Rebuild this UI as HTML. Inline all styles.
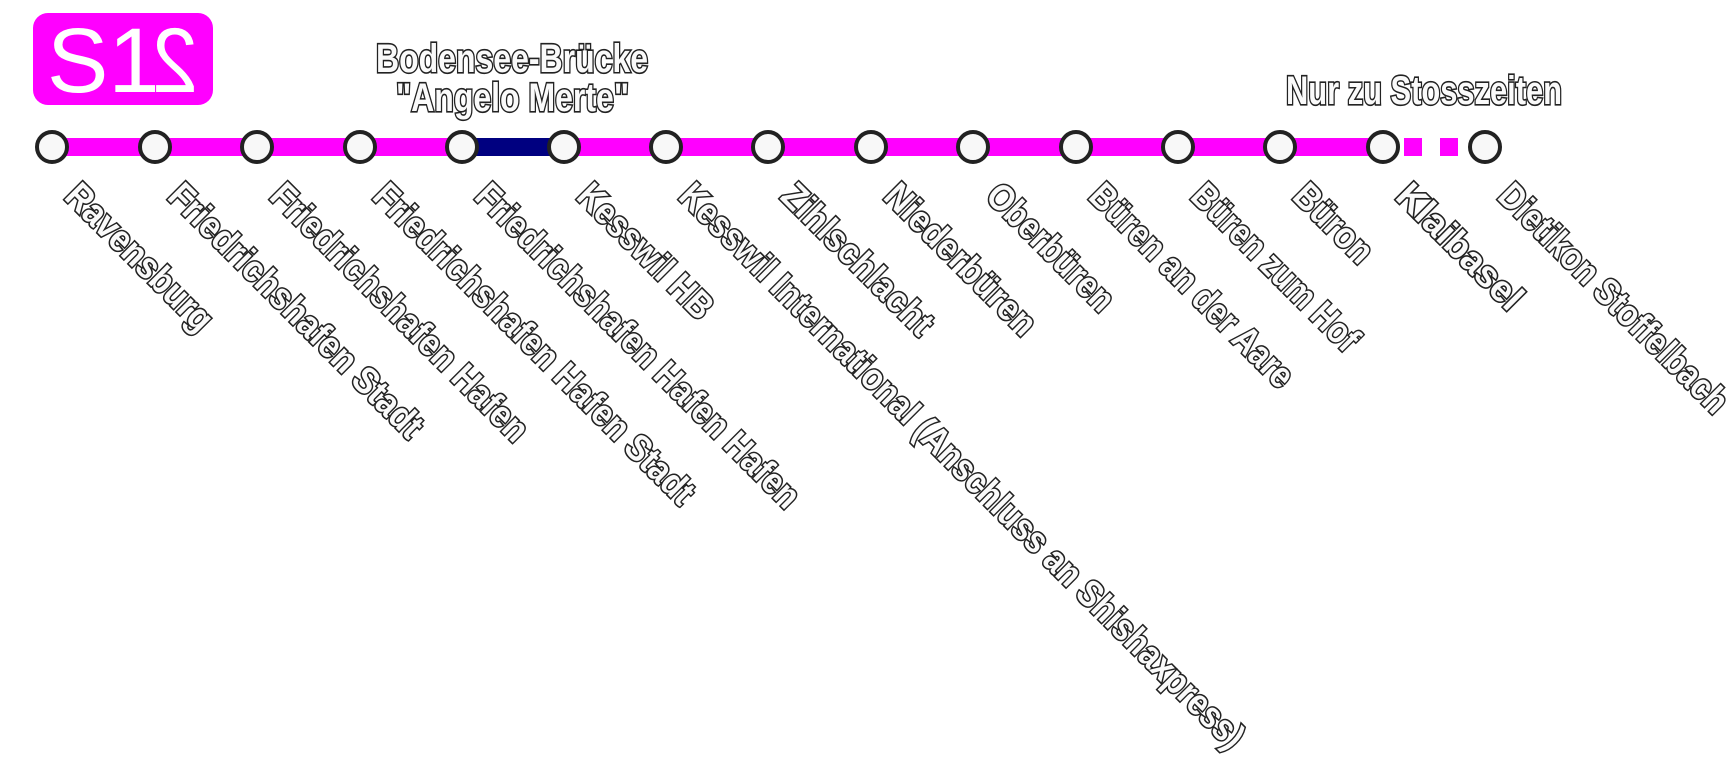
<!DOCTYPE html>
<html><head><meta charset="utf-8"><style>
html,body{margin:0;padding:0;background:#fff;}
svg{display:block}
text{font-family:"Liberation Sans Narrow","Liberation Sans",sans-serif;font-weight:bold;fill:#fafafa;stroke:#222;stroke-width:3.2;paint-order:stroke;}
</style></head><body>
<svg width="1736" height="774" viewBox="0 0 1736 774" xmlns="http://www.w3.org/2000/svg">
<rect x="33" y="13" width="180" height="92" rx="15" fill="#ff00ff"/>
<text x="47" y="92" style="font-family:'Liberation Sans',sans-serif;font-weight:normal;font-size:92px;fill:#fff;stroke:none">S1</text>
<text transform="translate(198,92) scale(-0.9,1)" style="font-family:'Liberation Sans',sans-serif;font-weight:normal;font-size:92px;fill:#fff;stroke:none">2</text>

<rect x="52" y="138" width="1331" height="18" fill="#ff00ff"/>
<rect x="462" y="138" width="102" height="18" fill="#000080"/>
<rect x="1404" y="138" width="18" height="18" fill="#ff00ff"/>
<rect x="1440" y="138" width="18" height="18" fill="#ff00ff"/>

<g fill="#f8f8f8" stroke="#222" stroke-width="4">
<circle cx="52" cy="147" r="15"/><circle cx="155" cy="147" r="15"/><circle cx="257" cy="147" r="15"/>
<circle cx="360" cy="147" r="15"/><circle cx="462" cy="147" r="15"/><circle cx="564" cy="147" r="15"/>
<circle cx="666" cy="147" r="15"/><circle cx="768" cy="147" r="15"/><circle cx="871" cy="147" r="15"/>
<circle cx="973" cy="147" r="15"/><circle cx="1076" cy="147" r="15"/><circle cx="1178" cy="147" r="15"/>
<circle cx="1280" cy="147" r="15"/><circle cx="1383" cy="147" r="15"/><circle cx="1485" cy="147" r="15"/>
</g>

<text x="376" y="72" font-size="40" textLength="272" lengthAdjust="spacingAndGlyphs">Bodensee-Brücke</text>
<text x="396" y="111" font-size="40" textLength="233" lengthAdjust="spacingAndGlyphs">"Angelo Merte"</text>
<text x="1286" y="104" font-size="40" textLength="276" lengthAdjust="spacingAndGlyphs">Nur zu Stosszeiten</text>

<g font-size="37">
<text transform="translate(63,198) rotate(45)" textLength="192" lengthAdjust="spacingAndGlyphs">Ravensburg</text>
<text transform="translate(166,198) rotate(45)" textLength="343" lengthAdjust="spacingAndGlyphs">Friedrichshafen Stadt</text>
<text transform="translate(268,198) rotate(45)" textLength="348" lengthAdjust="spacingAndGlyphs">Friedrichshafen Hafen</text>
<text transform="translate(371,198) rotate(45)" textLength="437" lengthAdjust="spacingAndGlyphs">Friedrichshafen Hafen Stadt</text>
<text transform="translate(473,198) rotate(45)" textLength="442" lengthAdjust="spacingAndGlyphs">Friedrichshafen Hafen Hafen</text>
<text transform="translate(575,198) rotate(45)" textLength="175" lengthAdjust="spacingAndGlyphs">Kesswil HB</text>
<text transform="translate(677,198) rotate(45)" textLength="782" lengthAdjust="spacingAndGlyphs">Kesswil International (Anschluss an Shishaxpress)</text>
<text transform="translate(779,198) rotate(45)" textLength="198" lengthAdjust="spacingAndGlyphs">Zihlschlacht</text>
<text transform="translate(882,198) rotate(45)" textLength="198" lengthAdjust="spacingAndGlyphs">Niederbüren</text>
<text transform="translate(984,198) rotate(45)" textLength="164" lengthAdjust="spacingAndGlyphs">Oberbüren</text>
<text transform="translate(1087,198) rotate(45)" textLength="272" lengthAdjust="spacingAndGlyphs">Büren an der Aare</text>
<text transform="translate(1189,198) rotate(45)" textLength="220" lengthAdjust="spacingAndGlyphs">Büren zum Hof</text>
<text transform="translate(1291,198) rotate(45)" textLength="96" lengthAdjust="spacingAndGlyphs">Büron</text>
<text transform="translate(1394,198) rotate(45)" textLength="162" lengthAdjust="spacingAndGlyphs">Klaibasel</text>
<text transform="translate(1496,198) rotate(45)" textLength="308" lengthAdjust="spacingAndGlyphs">Dietikon Stoffelbach</text>
</g>
</svg>
</body></html>
